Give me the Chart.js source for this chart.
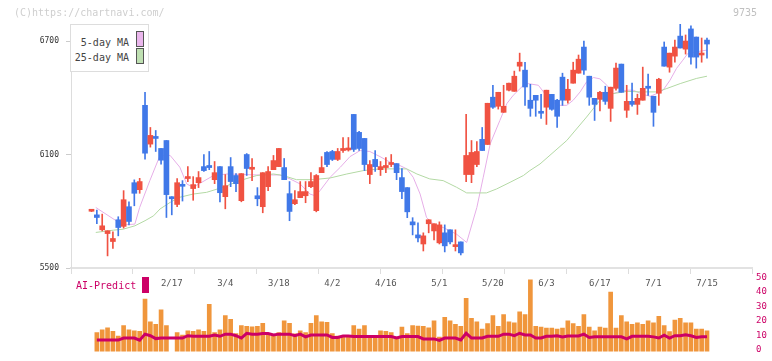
<!DOCTYPE html>
<html>
<head>
<meta charset="utf-8">
<script src="https://cdn.jsdelivr.net/npm/chart.js@4"></script>
<style>
  body { margin: 0; background: #fff; }
  #wrap { position: relative; width: 772px; height: 361px; overflow: hidden; font-family: "DejaVu Sans Mono", monospace; }
  #price { position: absolute; left: 0; top: 0; }
  #vol { position: absolute; left: 0; top: 270px; }
  .txt { position: absolute; white-space: nowrap; line-height: 10px; font-size: 10px; }
  #legend { position: absolute; left: 70px; top: 24px; width: 79px; height: 48px; box-sizing: border-box; border: 1px solid #ddd; background: #fff; }
  .sw { position: absolute; width: 8px; height: 16px; box-sizing: border-box; border: 1px solid #555; }
</style>
</head>
<body>
<div id="wrap">
  <canvas id="price" width="772" height="361"></canvas>
  <canvas id="vol" width="772" height="91"></canvas>
  <div class="txt" style="left:14px;top:8px;color:#cfcfcf">(C)https://chartnavi.com/</div>
  <div class="txt" style="left:733px;top:8px;color:#c0c0c0">9735</div>
  <div id="legend">
    <div class="txt" style="right:19px;top:13px;color:#444">5-day MA</div>
    <div class="txt" style="right:19px;top:28px;color:#444">25-day MA</div>
    <div class="sw" style="left:65px;top:6px;background:#eab6ec"></div>
    <div class="sw" style="left:65px;top:23px;background:#bfe0b2"></div>
  </div>
  <div class="txt" style="left:76px;top:281px;color:#cc0066">AI-Predict</div>
  <div style="position:absolute;left:142px;top:277px;width:7px;height:16px;background:#cc0066"></div>
</div>
<script>
// daily candles, 1/24 .. 7/15
const opens = [5800,5781,5702,5682,5640,5755,5720,5824,5951,5914,
  6360,6155,6190,6132,6174,5877,5836,5935,5973,5920,
  5951,6036,6042,5967,6036,5877,6036,5989,5856,6100,
  6022,5882,5824,5930,6020,6036,6031,5893,5840,5872,
  5882,5930,5803,6004,6111,6116,6074,6121,6124,6312,
  6217,6185,5994,6074,6020,6031,6047,6052,5978,5925,
  5744,5675,5627,5734,5696,5633,5686,5702,5613,5638,
  5994,5994,6047,6180,6153,6403,6355,6323,6440,6434,
  6567,6546,6387,6413,6328,6350,6418,6387,6509,6387,
  6477,6530,6668,6514,6397,6392,6429,6344,6450,6578,
  6334,6381,6365,6387,6461,6408,6424,6668,6562,6620,
  6726,6657,6764,6721,6626,6705];
const highs = [5803,5806,5785,5697,5691,5771,5909,5850,5966,5974,
  6429,6243,6227,6132,6174,5877,5973,5962,6036,5983,
  6010,6100,6116,6063,6036,5994,6084,5999,5999,6105,
  6079,5925,6004,6036,6095,6132,6079,5957,5909,5957,
  5957,6004,5994,6089,6116,6122,6132,6190,6190,6312,
  6222,6185,6068,6121,6063,6084,6100,6052,6026,5925,
  5766,5739,5686,5755,5734,5744,5728,5702,5702,5638,
  6312,6174,6169,6243,6371,6466,6429,6466,6477,6541,
  6636,6588,6471,6413,6418,6440,6418,6392,6530,6498,
  6588,6626,6700,6514,6397,6434,6461,6456,6583,6578,
  6466,6477,6419,6562,6525,6408,6503,6695,6636,6705,
  6790,6732,6780,6721,6716,6716];
const lows = [5798,5735,5696,5564,5603,5670,5711,5728,5829,5895,
  6075,6139,6116,6049,5767,5781,5824,5854,5957,5858,
  5925,6010,6020,5946,5850,5813,5930,5904,5850,5989,
  5962,5829,5792,5909,6020,6036,5967,5750,5835,5872,
  5845,5925,5797,6004,6036,6068,6068,6111,6118,6116,
  6121,6015,5946,6010,5989,6004,6036,5967,5866,5766,
  5675,5638,5590,5686,5649,5627,5585,5627,5590,5569,
  5957,5951,6036,6121,6153,6344,6340,6323,6436,6434,
  6541,6360,6302,6302,6291,6259,6334,6243,6360,6371,
  6477,6530,6524,6360,6280,6330,6365,6275,6440,6429,
  6296,6355,6312,6387,6413,6249,6360,6567,6535,6588,
  6663,6631,6578,6557,6588,6610];
const closes = [5802,5767,5723,5697,5656,5714,5861,5746,5895,5957,
  6107,6201,6185,6070,5888,5866,5951,5932,5983,5941,
  5978,6015,6031,6004,5898,5935,5957,5946,5999,6026,
  6026,5866,6004,6010,6068,6132,5967,5799,5861,5904,
  5904,5957,5989,6031,6047,6074,6116,6132,6130,6127,
  6132,6047,6047,6036,6036,6042,6058,6004,5904,5797,
  5728,5659,5670,5755,5734,5728,5617,5638,5619,5580,
  6095,6111,6116,6121,6371,6350,6429,6355,6477,6514,
  6588,6457,6344,6387,6318,6440,6339,6302,6387,6445,
  6546,6604,6546,6403,6365,6429,6381,6456,6557,6429,
  6381,6365,6397,6450,6450,6323,6498,6567,6636,6668,
  6663,6700,6615,6615,6636,6684];

// moving averages (x = candle index)
const ma5X = [0.8,4.6,5.9,8.1,9,10.9,12.8,14.7,16.5,17.8,19,22.8,25.3,30.9,35.2,37.1,39,40.8,41.8,42.7,
  44.6,46.5,48.3,50.2,52,53.9,55.8,57.6,58.9,60.1,61.4,62.6,63.9,65.7,68.2,70.1,72,73.2,74.5,76.3,
  77.6,78.8,80.7,81.6,83.5,84.7,86,87.5,88.8,90,91.3,92.5,93.8,95,96.3,97.5,98.4,100,101.2,103.1,
  104.4,105.6,106.8,108.1,109.3,110.5,111.4,113,115];
const ma5Y = [5820,5750,5728,5732,5820,5962,6095,6095,6033,5944,5927,5989,5997,5992,5992,5971,5944,5891,5882,5909,
  5980,6033,6089,6121,6116,6089,6059,6042,6024,5980,5891,5767,5732,5714,5679,5635,5820,5980,6157,6280,
  6369,6413,6466,6475,6466,6422,6378,6360,6360,6387,6431,6484,6507,6500,6466,6422,6431,6440,6440,6417,
  6408,6422,6440,6493,6555,6599,6634,6643,6652];
const ma25X = [0.8,4.1,5.9,8.1,10,11.6,12.8,14.7,16.5,19,21.5,24.6,27.7,30.9,34,35.8,38.3,41.4,44.6,47.7,
  50.8,53.9,58.9,60.8,63.2,65.7,68.2,70.1,73.8,75.7,78.2,80.7,81.9,83.8,88.8,92.5,95,97.5,100,102.5,
  105.6,107.5,110,113,115];
const ma25Y = [5688,5700,5705,5723,5750,5776,5812,5847,5874,5891,5900,5927,5962,5989,5997,5989,5967,5967,5976,5997,
  6015,6024,6024,5997,5971,5962,5927,5897,5897,5918,5953,5989,6015,6050,6174,6298,6387,6422,6434,6431,
  6431,6449,6475,6502,6514];

const volumes = [null,13.1,15,16.5,14,10.8,18.1,15,14.4,14,
  36.3,20.6,18.8,29,18.1,null,13.1,11.5,14.4,14,
  15,14,32.7,13.1,15,25,22.3,12.5,18.1,17.5,
  17.1,17.5,19.6,11.9,11.9,13.1,21.3,19.6,12.3,14.4,
  13.1,19.6,25,20.6,20.2,12.5,10.8,11.3,11.3,18.1,
  15.6,18.1,11.3,11.3,14.4,14,13.1,10,17,12.5,
  18.1,17.6,17.5,16.5,21.3,10,23.8,21.3,18.8,17.5,
  36.9,23.1,20.6,15.6,19.4,25,17.5,25.6,20.6,20,
  27.5,25.6,50,17.5,16.9,16.3,16.3,15.6,16.3,21.3,
  19.4,17.5,25.6,16.9,14.4,16.9,16.3,41.3,16.3,25,
  20.6,18.8,20,18.8,21.3,20,24.4,18.1,13.8,21.9,
  23.1,20,20,15.6,15.6,14.4];
const aiPredict = [null,8,8,8,8,8,9.4,9.4,9.4,7.9,
  12.1,11,9,9.4,9.4,9.4,9.4,9.4,11,10.6,
  10.6,10.6,10.6,11.5,10.6,12.1,12.1,11,9.4,12.7,
  12.1,12.1,12.5,12.5,11.5,12.1,12.1,12.1,11,12.1,
  10.2,11.5,11.5,11.5,11.5,9.8,9.8,10.8,10.8,10.4,
  10.4,10.4,10.4,10.4,10.4,10.4,10.4,9.4,10.4,10.4,
  10.4,10.4,8.8,8.8,8.8,7.7,9.4,9.4,9.4,8.1,
  12.7,9.4,9.4,9.4,10.6,10.6,10.6,12.1,12.1,11,
  12.7,11.5,11.5,9.4,9.4,10.6,10.6,11,10.2,10.8,
  10.8,10.8,12.1,9.8,10.2,10.2,10.2,10.2,10.2,10.2,
  8.8,10.6,10.6,10.6,10.6,10.2,9.4,11.3,9.4,11,
  11,11.7,11,9.8,10.2,10.2];

const dateTickIdx = [15,25,35,45,55,65,75,85,95,105,115];
const dateTickLabels = ['2/17','3/4','3/18','4/2','4/16','5/1','5/20','6/3','6/17','7/1','7/15'];
const priceTicks = [5500,6100,6700];
const volTicks = [0,10,20,30,40,50];

const X_MIN = -3.83, X_MAX = 123.41;
const MONO = '"DejaVu Sans Mono", monospace';
const UP = '#f05242', DOWN = '#4078e8';

const xMarks = [];
for (let k = 0; k <= 11; k++) xMarks.push(X_MIN + k * (X_MAX - X_MIN) / 11);

const candleColors = opens.map((o, i) => closes[i] >= o ? UP : DOWN);
const bodies = opens.map((o, i) => ({x: i, y: [o, closes[i]]}));
const wicks = opens.map((o, i) => ({x: i, y: [lows[i], highs[i]]}));

new Chart(document.getElementById('price'), {
  type: 'bar',
  data: {
    datasets: [
      {type: 'line', data: ma5X.map((x, i) => ({x: x, y: ma5Y[i]})), borderColor: '#e6aee8', borderWidth: 1, pointRadius: 0, order: 4},
      {type: 'line', data: ma25X.map((x, i) => ({x: x, y: ma25Y[i]})), borderColor: '#b3d9a4', borderWidth: 1, pointRadius: 0, order: 3},
      {data: wicks, backgroundColor: candleColors, barThickness: 1, grouped: false, order: 2},
      {data: bodies, backgroundColor: candleColors, barThickness: 5, grouped: false, minBarLength: 2, order: 1}
    ]
  },
  options: {
    responsive: false,
    animation: false,
    events: [],
    layout: {padding: {left: 0, right: 20, top: 24, bottom: 0}},
    plugins: {legend: {display: false}, tooltip: {enabled: false}},
    scales: {
      x: {
        type: 'linear', position: 'bottom', min: X_MIN, max: X_MAX, offset: false,
        afterBuildTicks: s => { s.ticks = xMarks.map(v => ({value: v})); },
        afterFit: s => { s.height = 6; },
        grid: {offset: false, drawOnChartArea: false, tickLength: 6, color: '#ddd'},
        border: {color: '#e2e2e2', width: 2},
        ticks: {display: false}
      },
      xl: {
        type: 'linear', position: 'bottom', min: X_MIN, max: X_MAX, offset: false,
        afterBuildTicks: s => { s.ticks = dateTickIdx.map(v => ({value: v})); },
        afterFit: s => { s.height = 87; },
        grid: {display: false, drawTicks: false, tickLength: 0},
        border: {display: false},
        ticks: {
          autoSkip: false, maxRotation: 0, padding: 4, color: '#555',
          font: {family: MONO, size: 9},
          callback: v => dateTickLabels[dateTickIdx.indexOf(v)]
        }
      },
      y: {
        position: 'left', min: 5500, max: 6790, beginAtZero: false,
        afterBuildTicks: s => { s.ticks = priceTicks.map(v => ({value: v})); },
        afterFit: s => { s.width = 71; },
        grid: {drawOnChartArea: false, tickLength: 5, color: '#ccc'},
        border: {color: '#ddd'},
        ticks: {padding: 7, color: '#333', font: {family: MONO, size: 8}, callback: v => String(v)}
      }
    }
  }
});

new Chart(document.getElementById('vol'), {
  type: 'bar',
  data: {
    datasets: [
      {type: 'line', data: aiPredict.map((v, i) => ({x: i, y: v})), borderColor: '#cc0066', borderWidth: 3, pointRadius: 0, order: 1},
      {data: volumes.map((v, i) => ({x: i, y: v})), backgroundColor: '#f0963c', barThickness: 4, order: 2}
    ]
  },
  options: {
    responsive: false,
    animation: false,
    events: [],
    layout: {padding: {left: 71, right: 0, top: 9, bottom: 2}},
    plugins: {legend: {display: false}, tooltip: {enabled: false}},
    scales: {
      x: {type: 'linear', min: X_MIN, max: X_MAX, offset: false, display: false},
      y: {
        position: 'right', min: 0, max: 50,
        afterBuildTicks: s => { s.ticks = volTicks.map(v => ({value: v})); },
        afterFit: s => { s.width = 20; },
        grid: {display: false, drawTicks: false, tickLength: 0},
        border: {display: false},
        ticks: {padding: 4, labelOffset: -2, color: '#cc0066', font: {family: MONO, size: 9}}
      }
    }
  }
});
</script>
</body>
</html>
